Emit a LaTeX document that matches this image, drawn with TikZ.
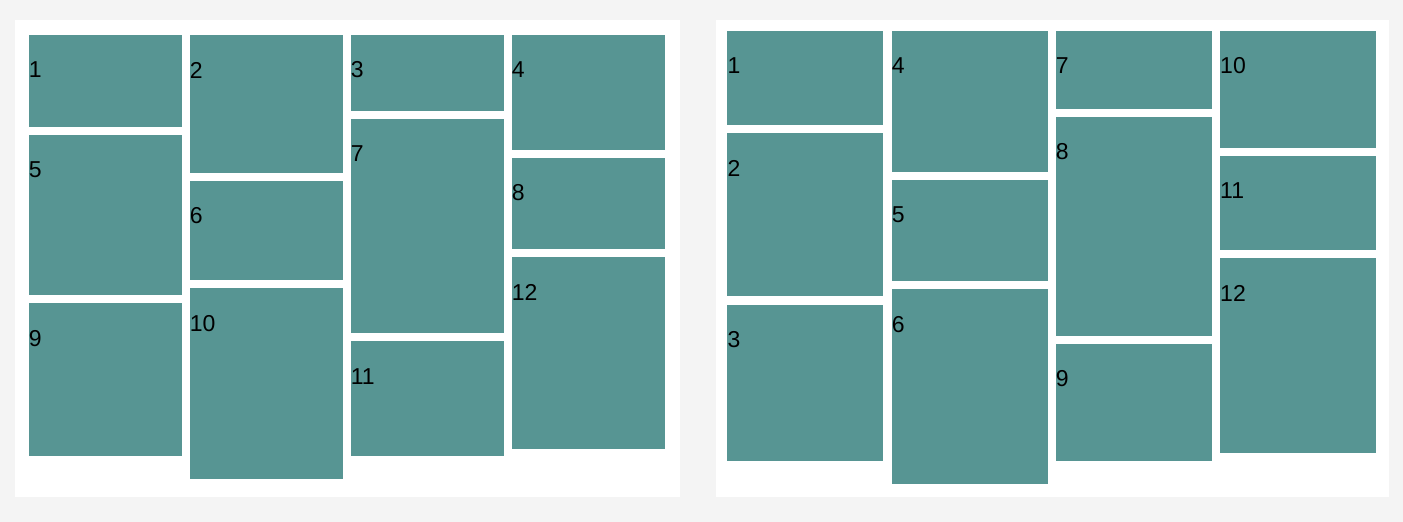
\documentclass[tikz,border=0pt]{standalone}
\usepackage{fontspec}
\setmainfont{Liberation Sans}
\definecolor{page}{RGB}{244,244,244}
\definecolor{tealbox}{RGB}{87,149,147}
\usetikzlibrary{positioning}

\tikzset{
  tile/.style={fill=tealbox,inner sep=0pt,outer sep=0pt,anchor=north west},
  num/.style={font=\fontsize{23}{23}\selectfont,inner sep=0pt,anchor=west}
}

\begin{document}
\begin{tikzpicture}[x=1pt,y=-1pt]
  % page and the two panels
  \fill[page] (0,0) rectangle (1403,522);
  \useasboundingbox (0,0) rectangle (1403,522);
  \fill[white] (15,20) rectangle (680,497);
  \fill[white] (716,20) rectangle (1389,497);
  % left panel: filled row by row
  \foreach \n/\x/\y/\h in {1/28.7/35/92, 5/28.7/134.7/160.3, 9/28.7/303.3/153,
      2/189.7/35/138, 6/189.7/181/99, 10/189.7/288.3/191,
      3/350.7/35/76, 7/350.7/119/214.3, 11/350.7/341.3/115,
      4/511.7/35/115, 8/511.7/157.7/91.3, 12/511.7/257/191.7}{
    \node[tile,minimum width=153pt,minimum height=\h pt] (l\n) at (\x,\y) {};
    \node[num] (ln\n) at ([yshift=-35pt]l\n.north west) {\n};
  }
  % right panel: filled column by column
  \foreach \n/\x/\y/\h in {1/727.3/31/94, 2/727.3/133/163, 3/727.3/304.7/156,
      4/891.7/31/141, 5/891.7/180/101, 6/891.7/289.3/194.7,
      7/1055.7/31/78, 8/1055.7/117/219, 9/1055.7/344/116.7,
      10/1220/31/117, 11/1220/156/94, 12/1220/258/195}{
    \node[tile,minimum width=156pt,minimum height=\h pt] (r\n) at (\x,\y) {};
    \node[num] (rn\n) at ([yshift=-35pt]r\n.north west) {\n};
  }
\end{tikzpicture}
\end{document}
